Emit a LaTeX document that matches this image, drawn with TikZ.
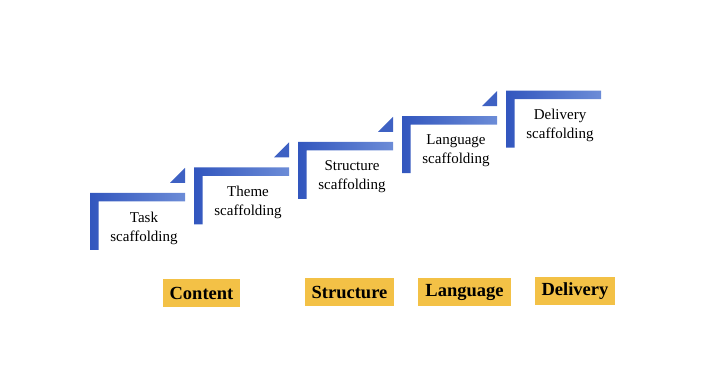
\documentclass[tikz,border=0pt]{standalone}
\usepackage{fontspec}
\setmainfont{Liberation Serif}
\usetikzlibrary{positioning}

\definecolor{stepblue}{RGB}{50,86,190}
\definecolor{steplight}{RGB}{108,140,215}
\definecolor{tabgold}{RGB}{243,193,70}

\tikzset{
  steplabel/.style={align=center,font=\fontsize{15}{19}\selectfont},
  tab/.style={fill=tabgold,font=\fontsize{18.5}{20}\selectfont\bfseries,
    minimum height=28pt,inner xsep=7pt,inner ysep=0pt},
}

\begin{document}
\begin{tikzpicture}[x=1pt,y=1pt]
\useasboundingbox (0,0) rectangle (715,382);
\pgfmathsetmacro{\wstep}{95}%
\pgfmathsetmacro{\hstep}{57}%
\pgfmathsetmacro{\estep}{8.5}%
\pgfmathsetmacro{\wtri}{15}%

    %marches
    \foreach \i/\name/\txt in {0/task/Task,1/theme/Theme,2/structure/Structure,3/language/Language,4/delivery/Delivery}{
      \pgfmathsetmacro{\xs}{90+104*\i}
      \pgfmathsetmacro{\ys}{189+25.6*\i}
      \shade[left color=stepblue,right color=steplight] (\xs,\ys) -- ++(\wstep,0) -- ++(0,-\estep)
        -- ++({-\wstep+\estep},0) -- ++(0,{-\hstep+\estep}) -- ++(-\estep,0) -- cycle;
      \ifnum\i<4
        \fill[stepblue!80!steplight] (\xs+\wstep-\wtri,\ys+10) -- (\xs+\wstep,\ys+10) -- (\xs+\wstep,\ys+10+\wtri) -- cycle;
      \fi
      \node[steplabel] (\name) at (\xs+54,\ys-35) {\txt\\scaffolding};
    }

    %etiquettes
    \node[tab] (content) at (201.5,89) {Content};
    \node[tab] (structuretab) at (349.5,89.5) {Structure};
    \node[tab] (languagetab) at (464.5,90) {Language};
    \node[tab] (deliverytab) at (575,91) {Delivery};

\end{tikzpicture}
\end{document}
